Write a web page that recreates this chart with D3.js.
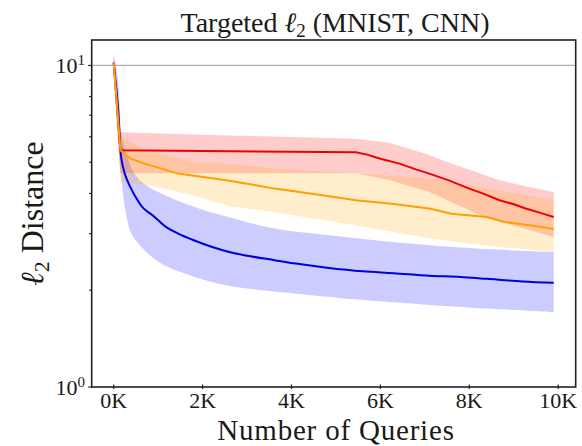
<!DOCTYPE html>
<html>
<head>
<meta charset="utf-8">
<script src="https://cdn.jsdelivr.net/npm/d3@7"></script>
<style>
  body { margin: 0; background: #fff; }
  svg { display: block; }
  text { font-family: "Liberation Serif", "Times New Roman", serif; fill: #1a1a1a; }
</style>
</head>
<body>
<svg id="chart" width="582" height="446"></svg>
<script>
// ---- data: [queries, l2 distance] ----
const xTicks = [0, 2000, 4000, 6000, 8000, 10000];
const xTickLabels = ["0K", "2K", "4K", "6K", "8K", "10K"];
const yMajorTicks = [1, 10];
const yMajorExponents = ["0", "1"];
const yMinorTicks = [2, 3, 4, 5, 6, 7, 8, 9];

const blueMean = [[0,10.2],[100,7.3],[170,5.15],[250,4.6],[350,4.25],[470,3.95],[650,3.62],[920,3.38],[1200,3.13],[1450,3.0],[1800,2.86],[2200,2.73],[2600,2.63],[2940,2.57],[3620,2.48],[4100,2.42],[4800,2.35],[5600,2.29],[6300,2.26],[7100,2.22],[7800,2.2],[8400,2.17],[9200,2.13],[9900,2.11]];
const blueHigh = [[0,10.9],[100,9.0],[170,6.2],[250,5.5],[400,4.8],[620,4.35],[1070,4.0],[1820,3.63],[2570,3.38],[3620,3.11],[5000,2.95],[7100,2.76],[8500,2.68],[9900,2.63]];
const blueLow = [[0,9.5],[100,5.8],[170,4.5],[250,3.63],[400,3.0],[700,2.66],[1070,2.42],[1820,2.2],[2570,2.07],[3620,1.98],[4100,1.95],[5500,1.87],[7100,1.8],[8500,1.75],[9900,1.71]];

const redMean = [[0,10.2],[150,5.45],[5450,5.37],[5700,5.28],[6000,5.13],[6430,4.95],[6800,4.75],[7100,4.61],[7540,4.39],[8000,4.14],[8300,4.0],[8680,3.81],[9000,3.7],[9270,3.59],[9600,3.48],[9900,3.38]];
const redHigh = [[0,10.7],[150,6.2],[2600,6.06],[5450,5.92],[6200,5.75],[7000,5.32],[7600,4.96],[8700,4.39],[9300,4.2],[9900,4.04]];
const redLow = [[0,9.7],[150,4.62],[5450,4.62],[6200,4.4],[7100,4.04],[8400,3.35],[9900,2.93]];

const orangeMean = [[0,10.2],[150,5.45],[350,5.15],[700,4.95],[1450,4.61],[2570,4.39],[3620,4.14],[4500,3.98],[5450,3.81],[6200,3.72],[7100,3.59],[7600,3.46],[8400,3.38],[8800,3.26],[9400,3.18],[9900,3.1]];
const orangeHigh = [[0,10.6],[150,6.0],[700,5.5],[1800,5.0],[2600,4.95],[3600,4.78],[5450,4.62],[7100,4.46],[8400,4.14],[9900,3.81]];
const orangeLow = [[0,9.7],[150,4.35],[900,4.2],[1800,3.94],[2600,3.65],[3600,3.5],[5450,3.18],[7100,2.9],[8400,2.75],[9900,2.63]];

const series = [
  { mean: blueMean,   high: blueHigh,   low: blueLow,   line: "#0000dd", fill: "rgba(0,0,255,0.2)",   smooth: true },
  { mean: redMean,    high: redHigh,    low: redLow,    line: "#ee0000", fill: "rgba(255,0,0,0.2)",   smooth: false },
  { mean: orangeMean, high: orangeHigh, low: orangeLow, line: "#ffa000", fill: "rgba(255,165,0,0.2)", smooth: false }
];

// ---- layout ----
const plot = { left: 91.7, right: 575.7, top: 40, bottom: 387 };
const svg = d3.select("#chart");

const x = d3.scaleLinear().domain([-495, 10395]).range([plot.left, plot.right]);
const y = d3.scaleLog().domain([1, 12]).range([plot.bottom, plot.top]);

// gridline at the upper decade
svg.append("line")
  .attr("x1", plot.left).attr("x2", plot.right)
  .attr("y1", y(10)).attr("y2", y(10))
  .attr("stroke", "#b0b0b0").attr("stroke-width", 1.2);

function pathGen(smooth) {
  return d3.line()
    .x(d => x(d[0])).y(d => y(d[1]))
    .curve(smooth ? d3.curveCatmullRom.alpha(0.5) : d3.curveLinear);
}

// spread bands: upper edge left-to-right, lower edge back right-to-left
series.forEach(s => {
  const g = pathGen(s.smooth);
  const upper = g(s.high);
  const lower = g(s.low.slice().reverse());
  svg.append("path")
    .attr("d", upper + "L" + lower.slice(1) + "Z")
    .attr("fill", s.fill).attr("stroke", "none");
});

// mean curves
series.forEach(s => {
  svg.append("path")
    .attr("d", pathGen(s.smooth)(s.mean))
    .attr("fill", "none").attr("stroke", s.line)
    .attr("stroke-width", 2).attr("stroke-linejoin", "round");
});

// frame
svg.append("rect")
  .attr("x", plot.left).attr("y", plot.top)
  .attr("width", plot.right - plot.left).attr("height", plot.bottom - plot.top)
  .attr("fill", "none").attr("stroke", "#222").attr("stroke-width", 1.6);

// x ticks and labels
const xg = svg.append("g");
xTicks.forEach((t, i) => {
  xg.append("line")
    .attr("x1", x(t)).attr("x2", x(t))
    .attr("y1", plot.bottom - 2.5).attr("y2", plot.bottom + 2)
    .attr("stroke", "#222").attr("stroke-width", 1.2);
  xg.append("text")
    .attr("x", x(t)).attr("y", 407.5)
    .attr("text-anchor", "middle").attr("font-size", 22)
    .text(xTickLabels[i]);
});

// y ticks and labels
const yg = svg.append("g");
yMinorTicks.forEach(t => {
  yg.append("line")
    .attr("x1", plot.left - 2.5).attr("x2", plot.left)
    .attr("y1", y(t)).attr("y2", y(t))
    .attr("stroke", "#222").attr("stroke-width", 1.2);
});
yMajorTicks.forEach((t, i) => {
  yg.append("line")
    .attr("x1", plot.left - 3.5).attr("x2", plot.left)
    .attr("y1", y(t)).attr("y2", y(t))
    .attr("stroke", "#222").attr("stroke-width", 1.2);
  const lbl = yg.append("text")
    .attr("x", 85).attr("y", y(t) + 8)
    .attr("text-anchor", "end").attr("font-size", 22);
  lbl.append("tspan").text("10");
  lbl.append("tspan").attr("font-size", 15).attr("dy", -8).text(yMajorExponents[i]);
});

// title
const title = svg.append("text")
  .attr("x", 335).attr("y", 32)
  .attr("text-anchor", "middle").attr("font-size", 28);
title.append("tspan").text("Targeted ");
title.append("tspan").attr("font-style", "italic").text("ℓ");
title.append("tspan").attr("font-size", 19).attr("dy", 5).text("2");
title.append("tspan").attr("dy", -5).text(" (MNIST, CNN)");

// x axis label
svg.append("text")
  .attr("x", 336).attr("y", 439.5)
  .attr("text-anchor", "middle").attr("font-size", 29)
  .attr("letter-spacing", 0.8)
  .text("Number of Queries");

// y axis label
const yl = svg.append("text")
  .attr("transform", `translate(43, ${(plot.top + plot.bottom) / 2}) rotate(-90)`)
  .attr("text-anchor", "middle").attr("font-size", 32);
yl.append("tspan").attr("font-style", "italic").text("ℓ");
yl.append("tspan").attr("font-size", 22).attr("dy", 6).text("2");
yl.append("tspan").attr("dy", -6).text(" Distance");
</script>
</body>
</html>
